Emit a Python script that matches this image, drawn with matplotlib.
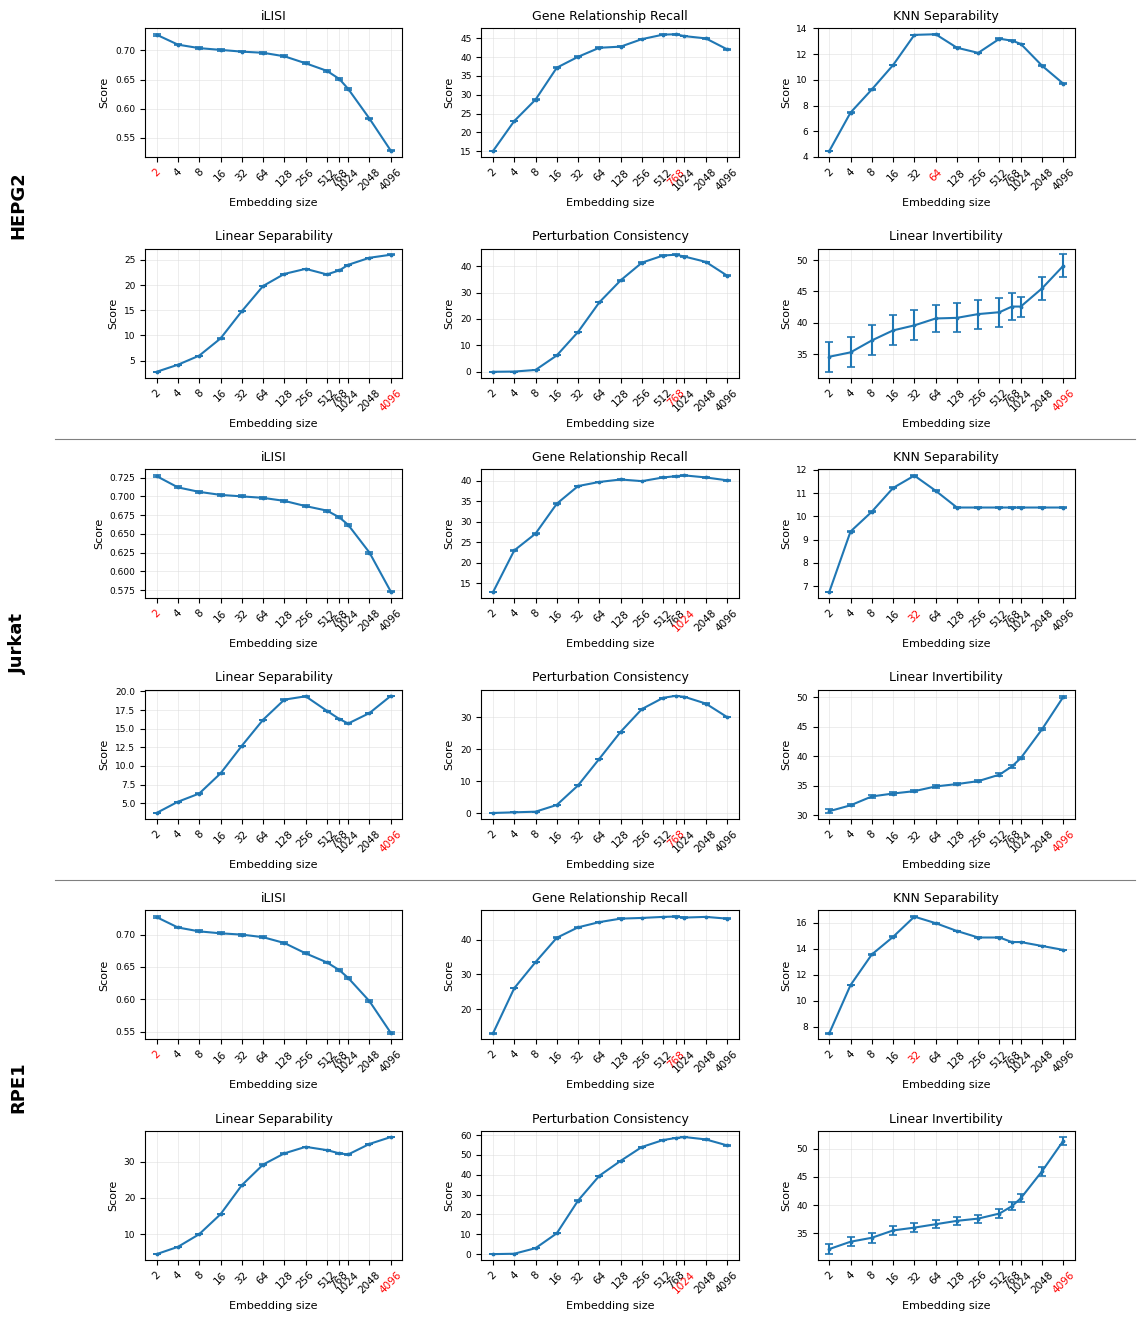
import matplotlib
matplotlib.use('Agg')
import matplotlib.pyplot as plt
from matplotlib.lines import Line2D
import numpy as np

tailles = [2, 4, 8, 16, 32, 64, 128, 256, 512, 768, 1024, 2048, 4096]
metriques = ['iLISI', 'Gene Relationship Recall', 'KNN Separability',
             'Linear Separability', 'Perturbation Consistency', 'Linear Invertibility']
lignees = ['HEPG2', 'Jurkat', 'RPE1']

# HEPG2
hepg2_ilisi = [0.727, 0.710, 0.704, 0.701, 0.698, 0.696, 0.690, 0.678, 0.665, 0.651, 0.634, 0.583, 0.528]
hepg2_grr = [15.0, 23.0, 28.7, 37.2, 40.1, 42.5, 42.8, 44.8, 46.0, 46.1, 45.6, 45.0, 42.1]
hepg2_knn = [4.45, 7.45, 9.25, 11.15, 13.5, 13.55, 12.5, 12.1, 13.2, 13.05, 12.8, 11.1, 9.7]
hepg2_linsep = [2.8, 4.2, 6.0, 9.4, 14.8, 19.8, 22.2, 23.2, 22.1, 22.9, 24.0, 25.4, 26.0]
hepg2_pert = [0.0, 0.1, 0.7, 6.2, 15.1, 26.3, 34.6, 41.3, 44.0, 44.3, 43.6, 41.6, 36.4]
hepg2_lininv = [34.6, 35.3, 37.2, 38.8, 39.6, 40.7, 40.8, 41.4, 41.7, 42.6, 42.6, 45.5, 49.1]
hepg2_lininv_err = [2.4, 2.4, 2.4, 2.4, 2.4, 2.1, 2.3, 2.3, 2.3, 2.1, 1.6, 1.8, 1.8]

# Jurkat
jurkat_ilisi = [0.727, 0.712, 0.706, 0.702, 0.700, 0.698, 0.694, 0.687, 0.681, 0.672, 0.662, 0.625, 0.573]
jurkat_grr = [12.8, 23.0, 27.1, 34.4, 38.7, 39.7, 40.3, 39.9, 40.8, 41.1, 41.3, 40.8, 40.1]
jurkat_knn = [6.75, 9.35, 10.2, 11.22, 11.75, 11.1, 10.38, 10.38, 10.38, 10.38, 10.38, 10.38, 10.38]
jurkat_linsep = [3.7, 5.2, 6.3, 9.0, 12.7, 16.2, 18.9, 19.35, 17.4, 16.3, 15.7, 17.1, 19.4]
jurkat_pert = [0.1, 0.3, 0.5, 2.6, 8.7, 17.0, 25.4, 32.5, 36.0, 36.6, 36.3, 34.2, 30.0]
jurkat_lininv = [30.7, 31.7, 33.2, 33.7, 34.1, 34.9, 35.3, 35.8, 36.9, 38.3, 39.7, 44.6, 50.1]
jurkat_lininv_err = [0.3, 0.2, 0.2, 0.2, 0.2, 0.2, 0.2, 0.2, 0.2, 0.2, 0.2, 0.2, 0.2]

# RPE1
rpe1_ilisi = [0.727, 0.711, 0.705, 0.702, 0.700, 0.696, 0.687, 0.671, 0.657, 0.645, 0.633, 0.597, 0.548]
rpe1_grr = [13.0, 26.0, 33.5, 40.5, 43.5, 45.0, 46.0, 46.2, 46.5, 46.6, 46.3, 46.5, 46.0]
rpe1_knn = [7.5, 11.2, 13.55, 14.9, 16.45, 15.95, 15.35, 14.85, 14.85, 14.5, 14.5, 14.2, 13.9]
rpe1_linsep = [4.5, 6.5, 10.0, 15.5, 23.5, 29.2, 32.3, 34.1, 33.2, 32.3, 32.0, 34.9, 36.8]
rpe1_pert = [0.0, 0.2, 3.0, 10.5, 27.0, 39.5, 47.0, 54.0, 57.5, 58.5, 59.0, 57.8, 54.8]
rpe1_lininv = [32.2, 33.5, 34.2, 35.5, 36.0, 36.6, 37.2, 37.6, 38.5, 39.8, 41.2, 46.0, 51.4]
rpe1_lininv_err = [0.9, 0.8, 0.9, 0.8, 0.8, 0.7, 0.7, 0.7, 0.8, 0.7, 0.7, 0.8, 0.7]

donnees = {
    'HEPG2': [hepg2_ilisi, hepg2_grr, hepg2_knn, hepg2_linsep, hepg2_pert, hepg2_lininv],
    'Jurkat': [jurkat_ilisi, jurkat_grr, jurkat_knn, jurkat_linsep, jurkat_pert, jurkat_lininv],
    'RPE1': [rpe1_ilisi, rpe1_grr, rpe1_knn, rpe1_linsep, rpe1_pert, rpe1_lininv],
}
erreurs = {'HEPG2': hepg2_lininv_err, 'Jurkat': jurkat_lininv_err, 'RPE1': rpe1_lininv_err}

fig, axes = plt.subplots(6, 3, figsize=(11.45, 13.22), dpi=100)
fig.subplots_adjust(left=0.1266, right=0.9389, top=0.9788, bottom=0.0469,
                    wspace=0.306, hspace=0.709)

for k, lignee in enumerate(lignees):
    for m, nom in enumerate(metriques):
        ax = axes[2 * k + m // 3, m % 3]
        y = np.array(donnees[lignee][m])
        if m == 5:
            yerr = erreurs[lignee]
        else:
            yerr = np.abs(y) * 0.002
        ax.errorbar(tailles, y, yerr=yerr, color='#1f77b4', marker='.', markersize=3.5,
                    capsize=3, linewidth=1.5, elinewidth=1.5, capthick=1.2)
        ax.set_xscale('log', base=2)
        ax.set_xticks(tailles)
        ax.set_xticklabels([str(t) for t in tailles], rotation=45, fontsize=7.5)
        ax.minorticks_off()
        ax.tick_params(axis='y', labelsize=6.5)
        best = int(np.argmax(y))
        ax.get_xticklabels()[best].set_color('red')
        ax.set_title(nom, fontsize=9)
        ax.set_xlabel('Embedding size', fontsize=8)
        ax.set_ylabel('Score', fontsize=8)
        ax.grid(True, color='#dddddd', linewidth=0.6, alpha=0.6)

# Séparateurs et noms des lignées
for yl in [1 - 439 / 1322, 1 - 880 / 1322]:
    fig.add_artist(Line2D([0.048, 0.991], [yl, yl], color='grey', linewidth=0.8))
for yc, lignee in zip([1 - 205 / 1322, 1 - 643 / 1322, 1 - 1087 / 1322], lignees):
    fig.text(0.016, yc, lignee, rotation=90, fontsize=13, fontweight='bold',
             ha='center', va='center')

fig.savefig('out.png', dpi=100)
